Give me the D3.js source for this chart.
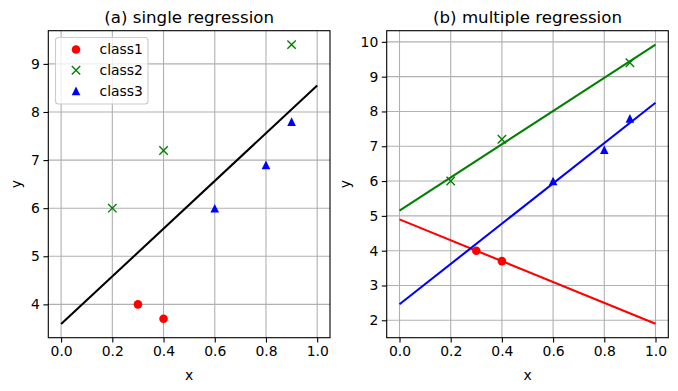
<!DOCTYPE html>
<html><head><meta charset="utf-8">
<script src="https://cdn.jsdelivr.net/npm/d3@7"></script>
<style>body{margin:0;background:#fff}svg{display:block}text{font-family:"DejaVu Sans",sans-serif;fill:#000}</style>
</head><body><svg id="c" width="678" height="391"></svg>
<script>
const class1X = [0.3, 0.4], class1Y = [4.0, 3.7];
const class2X = [0.2, 0.4, 0.9], class2Y = [6.0, 7.2, 9.4];
const class3X = [0.6, 0.8, 0.9], class3Y = [6.0, 6.9, 7.8];
const singleLineX = [0, 1], singleLineY = [3.59, 8.55];
const line1Y = [4.9, 1.9];
const line2Y = [5.15, 9.92];
const line3Y = [2.46, 8.25];
const xTicks = [0.0, 0.2, 0.4, 0.6, 0.8, 1.0];
const yTicksA = [4, 5, 6, 7, 8, 9];
const yTicksB = [2, 3, 4, 5, 6, 7, 8, 9, 10];
const titles = ["(a) single regression", "(b) multiple regression"];
const legendLabels = ["class1", "class2", "class3"];
const colors = ["red", "green", "blue"];

const svg = d3.select("#c");
const plotTop = 30.7, plotBottom = 337.7;
const panels = [
  {left: 48.3, right: 330, yDom: [3.307, 9.69], yTicks: yTicksA, title: titles[0]},
  {left: 386.7, right: 668.3, yDom: [1.5, 10.32], yTicks: yTicksB, title: titles[1]}
];
const classes = [
  {xs: class1X, ys: class1Y, m: "o"},
  {xs: class2X, ys: class2Y, m: "x"},
  {xs: class3X, ys: class3Y, m: "^"}
];
function marker(g, type, cx, cy, color) {
  if (type === "o") g.append("circle").attr("cx", cx).attr("cy", cy).attr("r", 4.3).attr("fill", color);
  else if (type === "x") {
    const s = 4.2;
    g.append("path").attr("d", `M${cx-s},${cy-s}L${cx+s},${cy+s}M${cx-s},${cy+s}L${cx+s},${cy-s}`)
      .attr("stroke", color).attr("stroke-width", 1.4).attr("fill", "none");
  } else {
    const s = 4.3;
    g.append("path").attr("d", `M${cx},${cy-s}L${cx+s},${cy+s}L${cx-s},${cy+s}Z`).attr("fill", color);
  }
}
panels.forEach((p, i) => {
  const x = d3.scaleLinear().domain([-0.05, 1.05]).range([p.left, p.right]);
  const y = d3.scaleLinear().domain(p.yDom).range([plotBottom, plotTop]);
  const g = svg.append("g");
  xTicks.forEach(t => g.append("line").attr("x1", x(t)).attr("x2", x(t)).attr("y1", plotTop).attr("y2", plotBottom)
    .attr("stroke", "#b0b0b0").attr("stroke-width", 1.1));
  p.yTicks.forEach(t => g.append("line").attr("x1", p.left).attr("x2", p.right).attr("y1", y(t)).attr("y2", y(t))
    .attr("stroke", "#b0b0b0").attr("stroke-width", 1.1));
  const ax = g.append("g").attr("transform", `translate(0,${plotBottom})`)
    .call(d3.axisBottom(x).tickValues(xTicks).tickFormat(d3.format(".1f")).tickSizeInner(4.9).tickSizeOuter(0).tickPadding(3.5));
  const ay = g.append("g").attr("transform", `translate(${p.left},0)`)
    .call(d3.axisLeft(y).tickValues(p.yTicks).tickFormat(d3.format("d")).tickSizeInner(4.9).tickSizeOuter(0).tickPadding(3.5));
  [ax, ay].forEach(a => {
    a.select(".domain").remove();
    a.selectAll("line").attr("stroke", "#000").attr("stroke-width", 1.1);
    a.selectAll("text").attr("font-size", 13.9).attr("font-family", "DejaVu Sans").attr("fill", "#000");
  });
  const lineGen = d3.line().x(d => x(d[0])).y(d => y(d[1]));
  const lg0 = g.append("g");
  if (i === 0) {
    lg0.append("path").attr("d", lineGen(singleLineX.map((v, k) => [v, singleLineY[k]])))
      .attr("stroke", "#000").attr("stroke-width", 2.08).attr("fill", "none");
  } else {
    [line1Y, line2Y, line3Y].forEach((ly, k) => {
      lg0.append("path").attr("d", lineGen(singleLineX.map((v, j) => [v, ly[j]])))
        .attr("stroke", colors[k]).attr("stroke-width", 2.08).attr("fill", "none");
    });
  }
  classes.forEach((c, k) => c.xs.forEach((xv, j) => marker(g, c.m, x(xv), y(c.ys[j]), colors[k])));
  g.append("rect").attr("x", p.left).attr("y", plotTop).attr("width", p.right - p.left).attr("height", plotBottom - plotTop)
    .attr("fill", "none").attr("stroke", "#000").attr("stroke-width", 1.1);
  g.append("text").attr("x", (p.left + p.right) / 2).attr("y", 22.5).attr("text-anchor", "middle")
    .attr("font-size", 16.67).text(p.title);
  g.append("text").attr("x", (p.left + p.right) / 2).attr("y", 380).attr("text-anchor", "middle")
    .attr("font-size", 13.9).text("x");
  const ylx = i === 0 ? 20.5 : 350;
  g.append("text").attr("transform", `translate(${ylx},${(plotTop + plotBottom) / 2}) rotate(-90)`).attr("text-anchor", "middle")
    .attr("font-size", 13.9).text("y");
  if (i === 0) {
    const lg = g.append("g");
    lg.append("rect").attr("x", 55.5).attr("y", 37.5).attr("width", 92.5).attr("height", 66.5).attr("rx", 3)
      .attr("fill", "rgba(255,255,255,0.8)").attr("stroke", "#cccccc").attr("stroke-width", 1.1);
    legendLabels.forEach((lab, k) => {
      const ry = 49.5 + k * 20.7;
      marker(lg, classes[k].m, 76, ry, colors[k]);
      lg.append("text").attr("x", 99.5).attr("y", ry).attr("dy", "0.35em").attr("font-size", 13.9).text(lab);
    });
  }
});
</script></body></html>
